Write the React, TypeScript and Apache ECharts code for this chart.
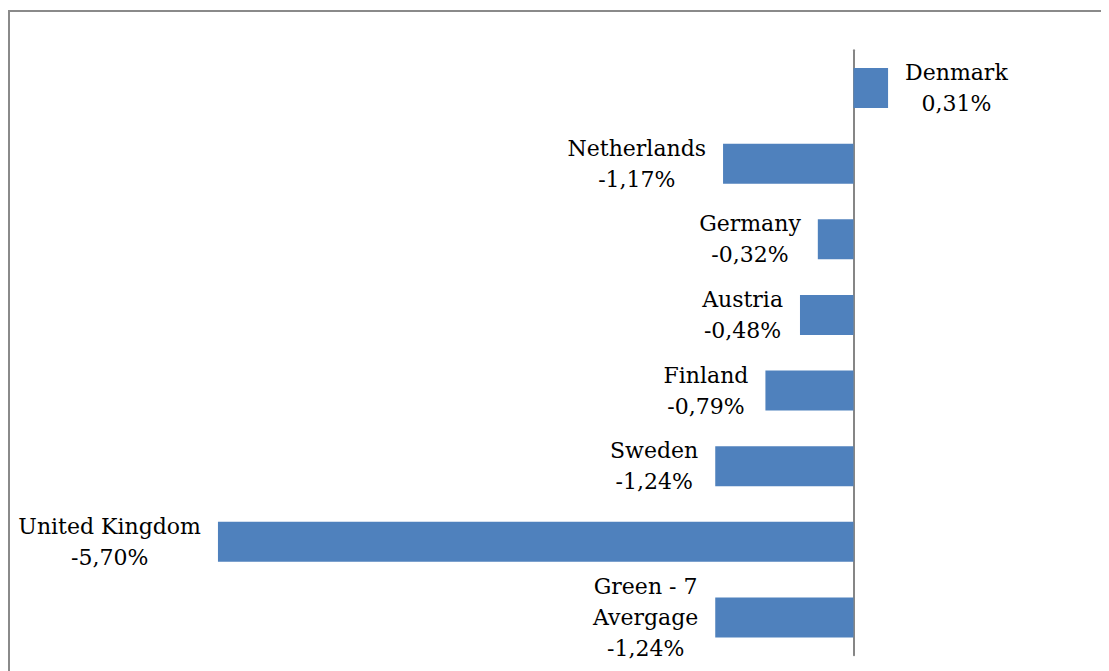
import React, { useEffect, useRef } from "react";
import * as echarts from "echarts";

const categories = [
  "Denmark",
  "Netherlands",
  "Germany",
  "Austria",
  "Finland",
  "Sweden",
  "United Kingdom",
  "Green - 7\nAvergage",
];
const values = [0.31, -1.17, -0.32, -0.48, -0.79, -1.24, -5.7, -1.24];

const fmt = (v: number) => v.toFixed(2).replace(".", ",") + "%";

export default function App() {
  const ref = useRef<HTMLDivElement>(null);
  useEffect(() => {
    if (!ref.current) return;
    const chart = echarts.init(ref.current, undefined, { renderer: "svg" });
    const textStyle = {
      fontFamily: "DejaVu Serif",
      fontSize: 22,
      lineHeight: 31,
      color: "#000",
      align: "center",
    };
    chart.setOption({
      animation: false,
      backgroundColor: "#fff",
      graphic: [
        {
          type: "rect",
          shape: { x: 1, y: 3, width: 1300, height: 900 },
          style: { fill: "none", stroke: "#8a8a8a", lineWidth: 2 },
          silent: true,
        },
      ],
      grid: { left: 176.5, right: 32.5, top: 42.2, bottom: 15.7, containLabel: false },
      xAxis: {
        type: "value",
        min: -6,
        max: 2,
        show: false,
      },
      yAxis: {
        type: "category",
        inverse: true,
        data: categories,
        axisLabel: { show: false },
        axisTick: { show: false },
        splitLine: { show: false },
        axisLine: { show: true, onZero: true, lineStyle: { color: "#868686", width: 2 } },
      },
      series: [
        {
          type: "bar",
          barWidth: 40,
          itemStyle: { color: "#4F81BD" },
          data: values.map((v, i) => {
            const lines = [...categories[i].split("\n"), fmt(v)];
            return {
              value: v,
              label: {
                show: true,
                position: v >= 0 ? "right" : "left",
                distance: 17,
                align: v >= 0 ? "left" : "right",
                formatter: lines.map((l) => "{a|" + l + "}").join("\n"),
                rich: { a: textStyle },
              },
            };
          }),
        },
      ],
    });
    return () => chart.dispose();
  }, []);
  return <div ref={ref} style={{ width: 1101, height: 663 }} />;
}
